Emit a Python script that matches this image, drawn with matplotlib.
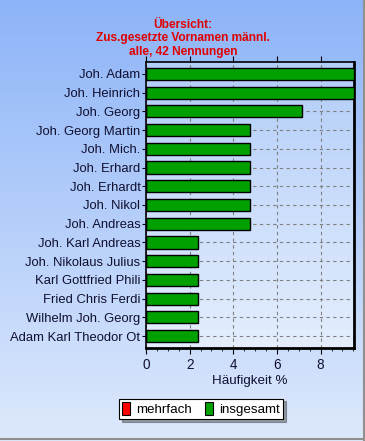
import numpy as np
import matplotlib
matplotlib.use("Agg")
import matplotlib.pyplot as plt
from matplotlib.patches import Rectangle
from matplotlib.colors import LinearSegmentedColormap

plt.rcParams['font.family'] = ['Liberation Sans', 'DejaVu Sans']

categories = ["Joh. Adam", "Joh. Heinrich", "Joh. Georg", "Joh. Georg Martin",
              "Joh. Mich.", "Joh. Erhard", "Joh. Erhardt", "Joh. Nikol",
              "Joh. Andreas", "Joh. Karl Andreas", "Joh. Nikolaus Julius",
              "Karl Gottfried Phili", "Fried Chris Ferdi", "Wilhelm Joh. Georg",
              "Adam Karl Theodor Ot"]
insgesamt = [9.52, 9.52, 7.14, 4.76, 4.76, 4.76, 4.76, 4.76, 4.76,
             2.38, 2.38, 2.38, 2.38, 2.38, 2.38]
mehrfach = [0] * 15
xticks = [0, 2, 4, 6, 8]
title = "Übersicht:\nZus.gesetzte Vornamen männl.\nalle, 42 Nennungen"

fig = plt.figure(figsize=(3.65, 4.41), dpi=100)

# figure background gradient
bg = fig.add_axes([0, 0, 1, 1], zorder=-10)
grad = np.linspace(0, 1, 256).reshape(-1, 1)
cmap_bg = LinearSegmentedColormap.from_list("bg", ["#8db4f8", "#dde9fc"])
bg.imshow(grad, aspect='auto', cmap=cmap_bg, extent=[0, 1, 0, 1], origin='upper')
bg.set_xlim(0, 1); bg.set_ylim(0, 1)
bg.axis('off')
bg.plot([0, 1], [0.004, 0.004], color="#909090", lw=1.5)
bg.plot([0.996, 0.996], [0, 1], color="#909090", lw=1.5)

ax = fig.add_axes([146/365, 1-348/441, (354-146)/365, (348-62)/441])
ax.set_facecolor('none')
cmap_ax = LinearSegmentedColormap.from_list("ax", ["#b2cdf9", "#e4eefd"])
ax.imshow(grad, aspect='auto', cmap=cmap_ax, extent=[0, 1, 0, 1],
          origin='upper', transform=ax.transAxes, zorder=0)

y = np.arange(len(categories))
ax.barh(y, insgesamt, height=0.65, color="#00a000", edgecolor="black",
        linewidth=1.0, zorder=3, label="insgesamt")
ax.barh(y, mehrfach, height=0.65, color="#ff0000", edgecolor="black",
        linewidth=1.0, zorder=3, label="mehrfach")

ax.set_xlim(0, 9.53)
ax.set_ylim(len(categories) - 0.36, -0.64)
ax.set_yticks(y)
ax.set_yticklabels(categories, fontsize=9.4, color="#101030")
ax.set_xticks(xticks)
ax.set_xticks(np.arange(0, 9.6, 0.5), minor=True)
ax.tick_params(axis='x', which='major', labelsize=9.8, length=4, direction='out',
               top=True, labelcolor="#101030")
ax.tick_params(axis='x', which='minor', length=2, direction='out')
ax.tick_params(axis='y', length=3, direction='out', pad=1)
ax.xaxis.grid(True, linestyle=(0, (3, 3)), color="#808080", lw=0.8, zorder=1)
for yy in y:
    ax.axhline(yy, linestyle=(0, (3, 3)), color="#808080", lw=0.8, zorder=1)
for s in ax.spines.values():
    s.set_linewidth(1.2)
ax.spines['bottom'].set_linewidth(2)
ax.spines['right'].set_linewidth(2)
ax.set_xlabel("Häufigkeit %", fontsize=9.6, color="#101030", labelpad=2)

fig.text(183/365, 1-38.5/441, title, ha='center', va='center', color="#e00000",
         fontsize=8.6, fontweight='bold', linespacing=1.15)

handles = [Rectangle((0, 0), 1, 1, fc="#ff0000", ec="black", lw=0.8),
           Rectangle((0, 0), 1, 1, fc="#00a000", ec="black", lw=0.8)]
leg = fig.legend(handles, ["mehrfach", "insgesamt"], loc='center',
                 bbox_to_anchor=(201/365, 1-409/441), ncol=2, fontsize=9.6,
                 frameon=True, fancybox=False, shadow=True, handlelength=0.6,
                 handleheight=1.1, handletextpad=0.45, columnspacing=1.0,
                 borderpad=0.25, borderaxespad=0, edgecolor="black")
leg.get_frame().set_linewidth(0.8)
leg.get_frame().set_facecolor("white")

fig.savefig("out.png", dpi=100)
